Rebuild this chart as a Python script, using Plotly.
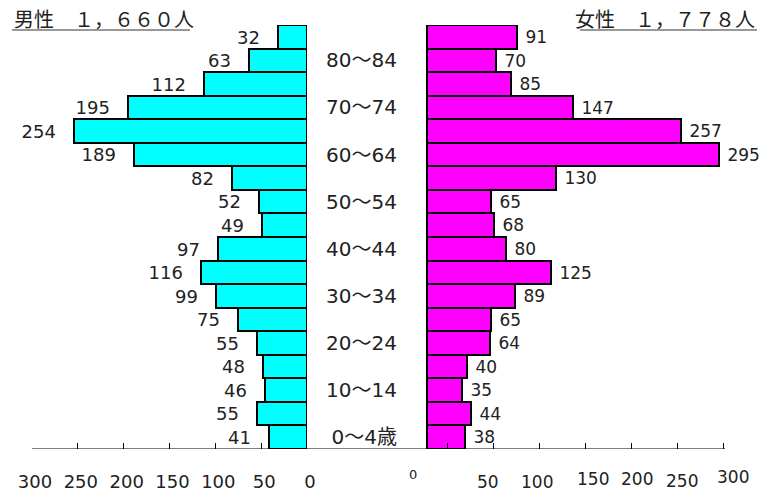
import plotly.graph_objects as go

# Age groups, bottom (youngest) to top (oldest)
categories = ["0～4歳", "5～9", "10～14", "15～19", "20～24", "25～29", "30～34", "35～39",
              "40～44", "45～49", "50～54", "55～59", "60～64", "65～69", "70～74", "75～79",
              "80～84", "85～"]
age_tick_text = ["0～4歳", "", "10～14", "", "20～24", "", "30～34", "", "40～44", "",
                 "50～54", "", "60～64", "", "70～74", "", "80～84", ""]

male = [41, 55, 46, 48, 55, 75, 99, 116, 97, 49, 52, 82, 189, 254, 195, 112, 63, 32]
female = [38, 44, 35, 40, 64, 65, 89, 125, 80, 68, 65, 130, 295, 257, 147, 85, 70, 91]

male_title = "男性　１，６６０人"
female_title = "女性　１，７７８人"

left_ticks = [0, 50, 100, 150, 200, 250, 300]
right_tick_labels = ["0", "50", "100", "150", "200", "250", "300"]
right_label_pos = [-14, 61.5, 111, 167.5, 212, 257.5, 309]
right_label_center = [474, 482, 482, 479, 479, 481, 477]

W, H = 762, 494
FONT = "DejaVu Sans, Noto Sans CJK JP"
CJK = "Noto Sans CJK JP"
TXT = "#222222"

fig = go.Figure()
fig.add_trace(go.Bar(
    y=categories, x=male, orientation="h", xaxis="x", yaxis="y",
    marker=dict(color="#00FFFF", line=dict(color="black", width=2)),
    text=male, texttemplate="%{x}\u00a0\u00a0\u2009", textposition="outside",
    textfont=dict(family=FONT, size=18, color=TXT),
    constraintext="none", cliponaxis=False, showlegend=False, hoverinfo="skip",
))
fig.add_trace(go.Bar(
    y=categories, x=female, orientation="h", xaxis="x2", yaxis="y2",
    marker=dict(color="#FF00FF", line=dict(color="black", width=2)),
    text=female, texttemplate="\u00a0%{x}", textposition="outside",
    textfont=dict(family=FONT, size=17, color=TXT),
    constraintext="none", cliponaxis=False, showlegend=False, hoverinfo="skip",
))

ydom = [45 / H, 469 / H]
r2 = [-26.3, 312]
px_per_unit = 0.99
x2_end = 401 + (r2[1] - r2[0]) * px_per_unit
fig.update_layout(
    width=W, height=H, margin=dict(l=0, r=0, t=0, b=0, autoexpand=False),
    paper_bgcolor="white", plot_bgcolor="rgba(0,0,0,0)",
    bargap=0,
    font=dict(family=FONT, color=TXT),
    xaxis=dict(domain=[32 / W, 307 / W], range=[300, 0], anchor="y",
               tickmode="array", tickvals=left_ticks, ticks="inside", ticklen=6,
               tickcolor="black", tickwidth=1, showgrid=False, zeroline=False,
               showline=False, tickfont=dict(size=18, color=TXT, family=FONT),
               ticklabelstandoff=20, ticklabelshift=-3, automargin=False),
    yaxis=dict(domain=ydom, range=[-0.5, 17.5], type="category",
               categoryorder="array", categoryarray=categories,
               showticklabels=False, showgrid=False, zeroline=False, ticks="",
               automargin=False),
    xaxis2=dict(domain=[401 / W, x2_end / W], range=r2, anchor="y2",
                tickmode="linear", tick0=299, dtick=46.46, ticks="inside", ticklen=6,
                tickcolor="black", tickwidth=1, showgrid=False, zeroline=False,
                showline=False, showticklabels=False, automargin=False),
    yaxis2=dict(domain=ydom, range=[-0.5, 17.5], type="category", anchor="x2",
                categoryorder="array", categoryarray=categories,
                tickmode="array", tickvals=categories, ticktext=age_tick_text,
                tickfont=dict(size=20, color=TXT, family=FONT),
                ticklabelstandoff=3,
                showgrid=False, zeroline=False, ticks="", showline=False,
                automargin=False),
)

# continuous baseline
fig.add_shape(type="line", xref="paper", yref="y", x0=32 / W, x1=725 / W, y0=-0.5, y1=-0.5,
              line=dict(color="black", width=1))

# right axis tick labels (staggered as in original)
for t, p, c in zip(right_tick_labels, right_label_pos, right_label_center):
    fig.add_annotation(x=p, y=-0.5, xref="x2", yref="y2", text=t, showarrow=False,
                       yanchor="middle", xanchor="center", yshift=-(c - 449),
                       font=dict(family=FONT, size=13 if t == "0" else 17, color=TXT))

# titles with underline
fig.add_annotation(x=12 / W, y=1 - 18 / H, xref="paper", yref="paper", text=male_title,
                   showarrow=False, xanchor="left", yanchor="middle",
                   font=dict(family=CJK, size=20, color=TXT))
fig.add_annotation(x=757 / W, y=1 - 18 / H, xref="paper", yref="paper", text=female_title,
                   showarrow=False, xanchor="right", yanchor="middle",
                   font=dict(family=CJK, size=20, color=TXT))
fig.add_shape(type="line", xref="paper", yref="paper", x0=12 / W, x1=190 / W,
              y0=1 - 30 / H, y1=1 - 30 / H, line=dict(color="#333333", width=1))
fig.add_shape(type="line", xref="paper", yref="paper", x0=580 / W, x1=757 / W,
              y0=1 - 30 / H, y1=1 - 30 / H, line=dict(color="#333333", width=1))

fig.write_html("out.html")
